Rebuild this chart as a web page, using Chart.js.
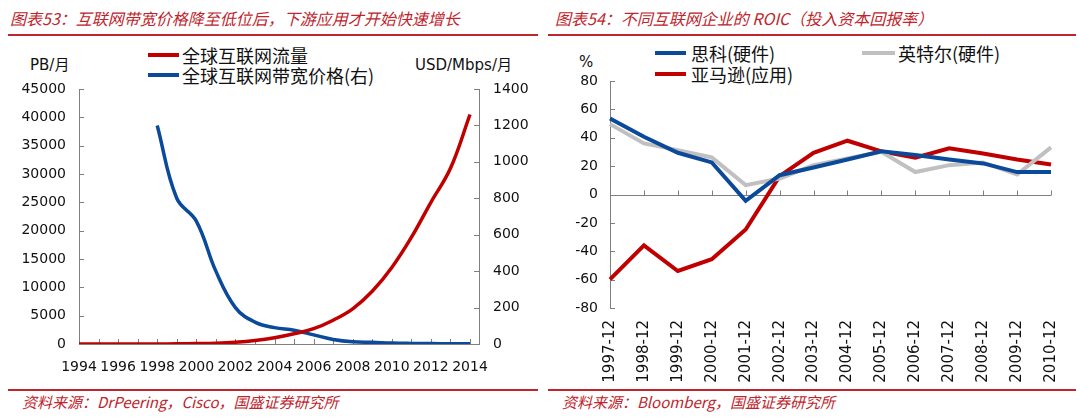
<!DOCTYPE html>
<html>
<head>
<meta charset="utf-8">
<script src="https://cdn.jsdelivr.net/npm/chart.js@4.4.1/dist/chart.umd.min.js"></script>
<style>
  body { margin: 0; background: #fff; width: 1080px; height: 417px; position: relative; overflow: hidden;
         font-family: "DejaVu Sans", sans-serif; }
  .abs { position: absolute; white-space: nowrap; }
  .title { font-family: "Noto Sans CJK SC", sans-serif; font-style: italic; color: #c0242c; font-size: 16px; top: 6px; }
  .rule { position: absolute; height: 2px; background: #c0242c; }
  .src { font-family: "Noto Sans CJK SC", sans-serif; font-style: italic; color: #c0242c; font-size: 15px; top: 391px; }
  .leg { font-family: "Noto Sans CJK SC", sans-serif; font-size: 18px; color: #111; line-height: 20px; }
  .swatch { position: absolute; height: 4px; }
  .unit { font-family: "DejaVu Sans", "Noto Sans CJK SC", sans-serif; font-size: 15px; color: #111; }
  canvas { position: absolute; }
</style>
</head>
<body>
<div class="abs title" style="left:10px">图表53：互联网带宽价格降至低位后，下游应用才开始快速增长</div>
<div class="abs title" style="left:555px">图表54：不同互联网企业的 ROIC（投入资本回报率）</div>
<div class="rule" style="left:8px;width:530px;top:34px"></div>
<div class="rule" style="left:548px;width:528px;top:34px"></div>

<div class="abs unit" style="left:30px;top:53px">PB/月</div>
<div class="abs unit" style="left:415px;top:53px">USD/Mbps/月</div>
<div class="swatch" style="left:148px;width:31px;top:53px;background:#c00000"></div>
<div class="abs leg" style="left:182px;top:45px">全球互联网流量</div>
<div class="swatch" style="left:148px;width:31px;top:73px;background:#0b4a9a"></div>
<div class="abs leg" style="left:182px;top:65px">全球互联网带宽价格(右)</div>

<div class="abs unit" style="left:579px;top:53px">%</div>
<div class="swatch" style="left:655px;width:31px;top:51px;background:#0b4a9a"></div>
<div class="abs leg" style="left:691px;top:43px">思科(硬件)</div>
<div class="swatch" style="left:862px;width:33px;top:51px;background:#c0c0c0"></div>
<div class="abs leg" style="left:898px;top:43px">英特尔(硬件)</div>
<div class="swatch" style="left:655px;width:31px;top:72px;background:#c00000"></div>
<div class="abs leg" style="left:691px;top:64px">亚马逊(应用)</div>

<canvas id="leftChart" style="left:0;top:80px" width="540" height="294"></canvas>
<canvas id="rightChart" style="left:540px;top:70px" width="540" height="318"></canvas>

<div class="rule" style="left:8px;width:530px;top:389px"></div>
<div class="rule" style="left:548px;width:528px;top:389px"></div>
<div class="abs src" style="left:22px">资料来源：DrPeering，Cisco，国盛证券研究所</div>
<div class="abs src" style="left:562px">资料来源：Bloomberg，国盛证券研究所</div>

<script>
// left chart: traffic (PB/month) and transit price (USD/Mbps/month)
const YEARS = [1994, 1995, 1996, 1997, 1998, 1999, 2000, 2001, 2002, 2003, 2004,
               2005, 2006, 2007, 2008, 2009, 2010, 2011, 2012, 2013, 2014]
const TRAFFIC = [0, 0, 2, 5, 12, 28, 75, 150, 320, 620, 1100,
                 1800, 2700, 4200, 6200, 9300, 13500, 18800, 25000, 31000, 40500]
const PRICE = [null, null, null, null, 1200, 800, 675, 400, 200, 120, 90,
               75, 50, 25, 12, 9, 5, 3.25, 2.34, 1.57, 0.94]

// right chart: ROIC %
const PERIODS = ["1997-12", "1998-12", "1999-12", "2000-12", "2001-12", "2002-12", "2003-12",
                 "2004-12", "2005-12", "2006-12", "2007-12", "2008-12", "2009-12", "2010-12"]
const CISCO = [53.6, 40.7, 29.4, 22.6, -4.5, 13.6, 19, 24.7, 30.4, 27.8, 24.7, 21.9, 15.8, 15.8]
const INTEL = [49.6, 36, 31.3, 26.1, 6.6, 11.3, 20.7, 25.4, 30.1, 15.8, 20.7, 22.6, 14.1, 33.2]
const AMAZON = [-59.8, -35.8, -53.9, -45.6, -24.7, 12.9, 29.4, 37.9, 30.4, 25.9, 32.5, 28.9, 24.7, 21.2]

const AXIS = '#7f7f7f'
const TICKFONT = { family: 'DejaVu Sans', size: 14 }
const XFONT = { family: 'DejaVu Sans', size: 15 }

// fixed axis sizes, and drop the label overhang chart.js adds to the plot area
function fixSize(w, h){
    return function(s){
        if (w != null) s.width = w
        if (h != null) s.height = h
        s.paddingTop = 0
        s.paddingBottom = 0
        s.paddingLeft = 0
        s.paddingRight = 0
    }
}

// excel style tick marks that point into the plot
const innerTicks = {
    id: 'innerTicks',
    beforeDatasetsDraw(chart, args, opts) {
        const ctx = chart.ctx
        const a = chart.chartArea
        const len = opts.len || 5
        ctx.save()
        ctx.strokeStyle = AXIS
        ctx.lineWidth = 1
        ctx.beginPath()
        let baseY = a.bottom
        if (opts.zeroLine) {
            baseY = Math.round(chart.scales.y.getPixelForValue(0)) + 0.5
            ctx.moveTo(a.left, baseY)
            ctx.lineTo(a.right, baseY)
        }
        Object.values(chart.scales).forEach(s => {
            s.ticks.forEach((t, i) => {
                const p = Math.round(s.getPixelForTick(i)) + 0.5
                if (s.isHorizontal()) {
                    if (i === 0) return
                    ctx.moveTo(p, baseY)
                    ctx.lineTo(p, baseY - len)
                } else if (s.position === 'left') {
                    ctx.moveTo(a.left, p)
                    ctx.lineTo(a.left + len, p)
                } else {
                    ctx.moveTo(a.right, p)
                    ctx.lineTo(a.right - len, p)
                }
            })
        })
        ctx.stroke()
        ctx.restore()
    }
}

function drawLeft(){
    new Chart(document.getElementById('leftChart'), {
        type: 'line',
        data: {
            datasets: [{
                label: '全球互联网流量',
                data: YEARS.map((y, i) => ({ x: y, y: TRAFFIC[i] })),
                borderColor: '#c00000',
                borderWidth: 3.5,
                yAxisID: 'y',
                tension: 0.4
            },
            {
                label: '全球互联网带宽价格(右)',
                data: YEARS.map((y, i) => ({ x: y, y: PRICE[i] })),
                borderColor: '#0b4a9a',
                borderWidth: 3.5,
                yAxisID: 'y1',
                tension: 0.4
            }]
        },
        options: {
            responsive: false,
            animation: false,
            layout: { padding: { top: 9, left: 0, right: 0, bottom: 0 } },
            plugins: { legend: { display: false }, tooltip: { enabled: false }, innerTicks: { len: 5 } },
            elements: { point: { radius: 0 }, line: { borderCapStyle: 'butt', borderJoinStyle: 'round' } },
            scales: {
                x: {
                    type: 'linear',
                    min: 1994,
                    max: 2014.46,
                    afterBuildTicks: s => { s.ticks = YEARS.map(v => ({ value: v })) },
                    afterFit: fixSize(null, 30),
                    grid: { drawOnChartArea: false, drawTicks: false },
                    border: { color: AXIS },
                    ticks: {
                        autoSkip: false, maxRotation: 0, padding: 15, color: '#111', font: TICKFONT,
                        callback: v => (v % 2 === 0 ? String(v) : '')
                    }
                },
                y: {
                    position: 'left',
                    min: 0, max: 45000,
                    afterFit: fixSize(79, null),
                    grid: { drawOnChartArea: false, drawTicks: false },
                    border: { color: AXIS },
                    ticks: { stepSize: 5000, padding: 13, color: '#111', font: TICKFONT, callback: v => String(v) }
                },
                y1: {
                    position: 'right',
                    min: 0, max: 1400,
                    afterFit: fixSize(61, null),
                    grid: { drawOnChartArea: false, drawTicks: false },
                    border: { color: AXIS },
                    ticks: { stepSize: 200, padding: 14, color: '#111', font: TICKFONT, callback: v => String(v) }
                }
            }
        },
        plugins: [innerTicks]
    })
}

function drawRight(){
    new Chart(document.getElementById('rightChart'), {
        type: 'line',
        data: {
            labels: PERIODS,
            datasets: [{
                label: '思科(硬件)',
                data: CISCO,
                borderColor: '#0b4a9a',
                borderWidth: 4
            },
            {
                label: '英特尔(硬件)',
                data: INTEL,
                borderColor: '#c0c0c0',
                borderWidth: 4
            },
            {
                label: '亚马逊(应用)',
                data: AMAZON,
                borderColor: '#c00000',
                borderWidth: 4
            }]
        },
        options: {
            responsive: false,
            animation: false,
            layout: { padding: { top: 11, left: 0, right: 29, bottom: 0 } },
            plugins: { legend: { display: false }, tooltip: { enabled: false }, innerTicks: { len: 5, zeroLine: true } },
            elements: { point: { radius: 0 }, line: { tension: 0, borderJoinStyle: 'miter' } },
            scales: {
                x: {
                    offset: false,
                    afterFit: fixSize(null, 80),
                    grid: { display: false, drawTicks: false },
                    border: { display: false },
                    ticks: { autoSkip: false, minRotation: 90, maxRotation: 90, padding: 12, color: '#111', font: XFONT }
                },
                y: {
                    min: -80, max: 80,
                    afterFit: fixSize(70, null),
                    grid: { drawOnChartArea: false, drawTicks: false },
                    border: { color: AXIS },
                    ticks: { stepSize: 20, padding: 12, color: '#111', font: TICKFONT }
                }
            }
        },
        plugins: [innerTicks]
    })
}

drawLeft()
drawRight()
</script>
</body>
</html>
